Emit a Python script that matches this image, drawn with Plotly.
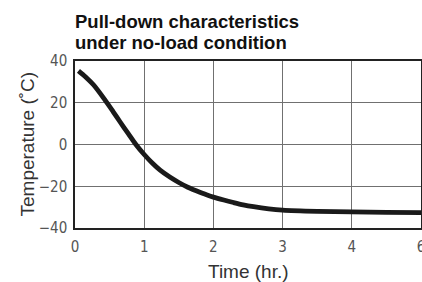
import plotly.graph_objects as go

time_hr = [0.05, 0.15, 0.27, 0.43, 0.55, 0.65, 0.77, 0.88, 1.0, 1.12, 1.23, 1.37, 1.5, 1.63, 1.76, 1.9, 2.0, 2.15, 2.29, 2.43, 2.58, 2.8, 3.0, 3.5, 4.0, 4.5, 5.0]
temp_c = [35.3, 32.5, 28.5, 21.5, 15.8, 10.9, 5.2, 0.0, -4.8, -9.0, -12.3, -15.6, -18.2, -20.5, -22.3, -24.1, -25.2, -26.6, -27.8, -28.9, -29.8, -30.8, -31.4, -32.0, -32.3, -32.5, -32.6]

x_tickvals = [0, 1, 2, 3, 4, 5]
x_ticktext = ["0", "1", "2", "3", "4", "6"]
y_tickvals = [-40, -20, 0, 20, 40]
title_lines = ["Pull-down characteristics", "under no-load condition"]

L, R, T, B = 75, 1, 61, 54
W, H = 422, 282
PW, PH = W - L - R, H - T - B


def py(p):
    return (H - B - p) / PH


def px(p):
    return (p - L) / PW


fig = go.Figure()
fig.add_trace(go.Scatter(x=time_hr, y=temp_c, mode="lines",
                         line=dict(color="#1a1a1a", width=4.8, shape="spline", smoothing=0.8),
                         showlegend=False, hoverinfo="skip"))

narrow = "Liberation Sans Narrow, DejaVu Sans Condensed, Roboto Condensed, Arial Narrow, Liberation Sans"
tickfont = dict(family=narrow, size=15, color="#555555")
axtitlefont = dict(family="Liberation Sans, Arial", size=19, color="#333333")
fig.update_layout(
    width=W, height=H,
    margin=dict(l=L, r=R, t=T, b=B),
    paper_bgcolor="white", plot_bgcolor="white",
    xaxis=dict(range=[0, 5], tickvals=x_tickvals, ticktext=x_ticktext, automargin=False,
               showgrid=True, gridcolor="#707070", gridwidth=1,
               showline=True, linecolor="#222222", linewidth=1.5, mirror=True,
               ticks="outside", ticklen=4, tickcolor="rgba(0,0,0,0)",
               tickfont=tickfont, ticklabeloverflow="allow", zeroline=False),
    yaxis=dict(range=[-40, 40], tickvals=y_tickvals, automargin=False,
               showgrid=True, gridcolor="#707070", gridwidth=1,
               showline=True, linecolor="#222222", linewidth=1.5, mirror=True,
               ticks="outside", ticklen=3, tickcolor="rgba(0,0,0,0)",
               tickfont=tickfont, zeroline=False),
)
for line, ypix in zip(title_lines, [21.5, 42.0]):
    fig.add_annotation(text=f"<b>{line}</b>", xref="paper", yref="paper",
                       x=0, y=py(ypix), xanchor="left", yanchor="middle", showarrow=False,
                       xshift=-2,
                       font=dict(family="Liberation Sans, Arial", size=18.5, color="#111111"))
fig.add_annotation(text="Time (hr.)", xref="paper", yref="paper",
                   x=0.5, y=py(271.5), xanchor="center", yanchor="middle",
                   showarrow=False, font=axtitlefont)
fig.add_annotation(text="Temperature (˚C)", xref="paper", yref="paper",
                   x=px(27), y=0.5, xanchor="center", yanchor="middle", textangle=-90,
                   showarrow=False, font=axtitlefont)
fig.write_html("out.html", config={"displayModeBar": False},
               post_script="document.body.style.margin='0px';document.body.style.overflow='hidden';")
